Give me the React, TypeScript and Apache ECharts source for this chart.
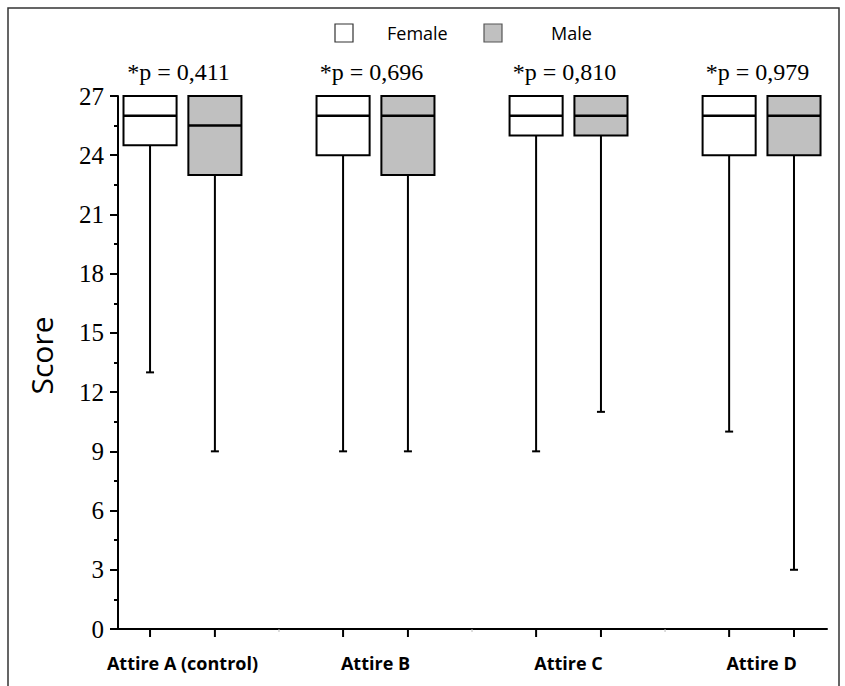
import React, { useEffect, useRef } from "react";
import * as echarts from "echarts";

const groups = ["Attire A (control)", "Attire B", "Attire C", "Attire D"];
const pValues = ["*p = 0,411", "*p = 0,696", "*p = 0,810", "*p = 0,979"];
// [min, q1, median, q3, max]
const femaleBoxes = [
  [13, 24.5, 26, 27, 27],
  [9, 24, 26, 27, 27],
  [9, 25, 26, 27, 27],
  [10, 24, 26, 27, 27],
];
const maleBoxes = [
  [9, 23, 25.5, 27, 27],
  [9, 23, 26, 27, 27],
  [11, 25, 26, 27, 27],
  [3, 24, 26, 27, 27],
];
const yTicks = { min: 0, max: 27, interval: 3 };

const OFFSET = 0.168;
const BOX_W = 0.275;

function boxRender(fill: string) {
  return (params: any, api: any) => {
    const x = api.value(0);
    const mn = api.value(1);
    const q1 = api.value(2);
    const md = api.value(3);
    const q3 = api.value(4);
    const mx = api.value(5);
    const w = api.size([BOX_W, 0])[0];
    const pMin = api.coord([x, mn]);
    const pQ1 = api.coord([x, q1]);
    const pMd = api.coord([x, md]);
    const pQ3 = api.coord([x, q3]);
    const pMx = api.coord([x, mx]);
    const p0 = api.coord([x, 0]);
    const ls = { stroke: "#000", lineWidth: 2 };
    const children: any[] = [
      { type: "line", shape: { x1: pMin[0], y1: pMin[1], x2: pQ1[0], y2: pQ1[1] }, style: ls },
      { type: "line", shape: { x1: pMin[0] - 4, y1: pMin[1], x2: pMin[0] + 4, y2: pMin[1] }, style: ls },
      { type: "line", shape: { x1: pQ3[0], y1: pQ3[1], x2: pMx[0], y2: pMx[1] }, style: ls },
      {
        type: "rect",
        shape: { x: pQ3[0] - w / 2, y: pQ3[1], width: w, height: pQ1[1] - pQ3[1] },
        style: { fill, stroke: "#000", lineWidth: 2 },
      },
      { type: "line", shape: { x1: pMd[0] - w / 2, y1: pMd[1], x2: pMd[0] + w / 2, y2: pMd[1] }, style: { stroke: "#000", lineWidth: 2.5 } },
      { type: "line", shape: { x1: p0[0], y1: p0[1], x2: p0[0], y2: p0[1] + 8 }, style: { stroke: "#000", lineWidth: 2 } },
    ];
    return { type: "group", children };
  };
}

export default function App() {
  const ref = useRef<HTMLDivElement>(null);
  useEffect(() => {
    if (!ref.current) return;
    const chart = echarts.init(ref.current, null, { renderer: "svg" });
    const femaleData = femaleBoxes.map((b, i) => [i - OFFSET, ...b]);
    const maleData = maleBoxes.map((b, i) => [i + OFFSET, ...b]);
    const groupData = groups.map((g, i) => [i, yTicks.max]);
    chart.setOption({
      animation: false,
      backgroundColor: "#fff",
      grid: { left: 118, right: 18, top: 96, bottom: 57, containLabel: false },
      xAxis: {
        type: "value",
        min: -0.334,
        max: 3.339,
        axisLine: { show: true, onZero: false, lineStyle: { color: "#000", width: 2 } },
        axisTick: { show: false },
        axisLabel: { show: false },
        splitLine: { show: false },
      },
      yAxis: {
        type: "value",
        min: yTicks.min,
        max: yTicks.max,
        interval: yTicks.interval,
        name: "Score",
        nameLocation: "middle",
        nameGap: 62,
        nameTextStyle: { fontFamily: "Open Sans", fontSize: 30, color: "#000", padding: [0, 0, 0, 14] },
        axisLine: { show: true, onZero: false, lineStyle: { color: "#000", width: 2 } },
        axisTick: { show: true, length: 8, lineStyle: { color: "#000", width: 2 } },
        minorTick: { show: true, splitNumber: 2, length: 4, lineStyle: { color: "#000", width: 2 } },
        axisLabel: { fontFamily: "Liberation Serif", fontSize: 25, color: "#000", margin: 14 },
        splitLine: { show: false },
      },
      series: [
        {
          type: "custom",
          name: "Female",
          renderItem: boxRender("#ffffff"),
          data: femaleData,
          encode: { x: 0, y: [1, 2, 3, 4, 5] },
          clip: false,
        },
        {
          type: "custom",
          name: "Male",
          renderItem: boxRender("#c0c0c0"),
          data: maleData,
          encode: { x: 0, y: [1, 2, 3, 4, 5] },
          clip: false,
        },
        {
          type: "custom",
          name: "labels",
          data: groupData,
          encode: { x: 0, y: 1 },
          clip: false,
          renderItem: (params: any, api: any) => {
            const i = params.dataIndex;
            const g = api.value(0);
            const top = api.coord([g, yTicks.max]);
            const bot = api.coord([g, 0]);
            const children: any[] = [
              {
                type: "text",
                x: top[0] - 4,
                y: top[1] - 24,
                style: {
                  text: pValues[i],
                  fontFamily: "Liberation Serif",
                  fontSize: 24,
                  fill: "#000",
                  align: "center",
                  verticalAlign: "middle",
                },
              },
              {
                type: "text",
                x: bot[0],
                y: bot[1] + 34,
                style: {
                  text: groups[i],
                  fontFamily: "Open Sans",
                  fontWeight: "bold",
                  fontSize: 18,
                  fill: "#000",
                  align: "center",
                  verticalAlign: "middle",
                },
              },
            ];
            if (i > 0) {
              const b = api.coord([g - 0.5, 0]);
              children.push({
                type: "line",
                shape: { x1: b[0], y1: b[1], x2: b[0], y2: b[1] + 3 },
                style: { stroke: "#bbb", lineWidth: 1 },
              });
            }
            return { type: "group", children };
          },
        },
      ],
      graphic: [
        {
          type: "rect",
          shape: { x: 8, y: 8, width: 831, height: 700 },
          style: { fill: "none", stroke: "#333", lineWidth: 1.5 },
          silent: true,
          z: -1,
        },
        {
          type: "rect",
          shape: { x: 335, y: 24, width: 18, height: 18 },
          style: { fill: "#fff", stroke: "#333", lineWidth: 1.2 },
        },
        {
          type: "text",
          x: 387,
          y: 33,
          style: { text: "Female", fontFamily: "Open Sans", fontSize: 18, fill: "#000", verticalAlign: "middle" },
        },
        {
          type: "rect",
          shape: { x: 484, y: 24, width: 18, height: 18 },
          style: { fill: "#c0c0c0", stroke: "#555", lineWidth: 1.2 },
        },
        {
          type: "text",
          x: 551,
          y: 33,
          style: { text: "Male", fontFamily: "Open Sans", fontSize: 18, fill: "#000", verticalAlign: "middle" },
        },
      ],
    });
    return () => chart.dispose();
  }, []);
  return (
    <div
      ref={ref}
      style={{ position: "absolute", left: 0, top: 0, width: 845, height: 686 }}
    />
  );
}
